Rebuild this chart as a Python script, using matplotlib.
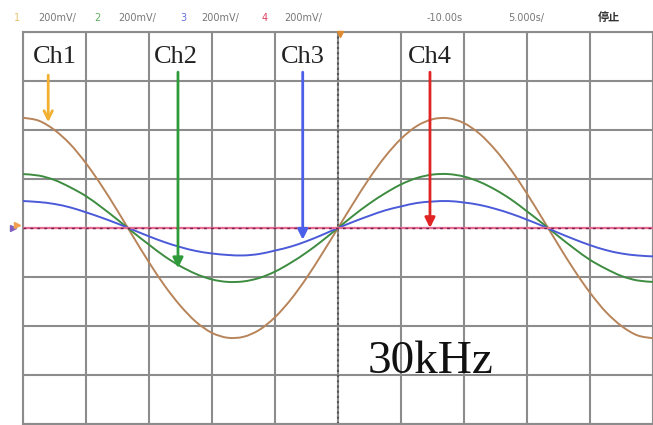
import matplotlib
matplotlib.use("Agg")
import matplotlib.pyplot as plt
from matplotlib.path import Path
from matplotlib.patches import PathPatch
import numpy as np

t_div = [-5.0 + 0.25 * k for k in range(41)]
ch1 = [2.25, 2.19, 2.00, 1.71, 1.32, 0.86, 0.35, -0.18, -0.70, -1.18, -1.59, -1.92, -2.14, -2.24,
       -2.22, -2.08, -1.82, -1.46, -1.02, -0.52, 0.00, 0.52, 1.02, 1.46, 1.82, 2.08, 2.22, 2.24,
       2.14, 1.92, 1.59, 1.18, 0.70, 0.18, -0.35, -0.86, -1.32, -1.71, -2.00, -2.19, -2.25]
ch2 = [1.10, 1.07, 0.98, 0.83, 0.65, 0.42, 0.17, -0.09, -0.34, -0.58, -0.78, -0.94, -1.05, -1.10,
       -1.09, -1.02, -0.89, -0.71, -0.50, -0.26, 0.00, 0.26, 0.50, 0.71, 0.89, 1.02, 1.09, 1.10,
       1.05, 0.94, 0.78, 0.58, 0.34, 0.09, -0.17, -0.42, -0.65, -0.83, -0.98, -1.07, -1.10]
ch3 = [0.55, 0.53, 0.49, 0.42, 0.32, 0.21, 0.09, -0.04, -0.17, -0.29, -0.39, -0.47, -0.52, -0.55,
       -0.56, -0.53, -0.46, -0.38, -0.27, -0.14, 0.00, 0.13, 0.25, 0.36, 0.44, 0.51, 0.54, 0.55,
       0.52, 0.47, 0.39, 0.29, 0.17, 0.04, -0.10, -0.23, -0.35, -0.45, -0.52, -0.56, -0.58]
ch4 = [0.0] * 41

ch_labels = ["Ch1", "Ch2", "Ch3", "Ch4"]
label_x = [-4.49, -2.57, -0.56, 1.46]
arrow_x = [-4.6, -2.54, -0.56, 1.46]
arrow_tip = [2.16, -0.82, -0.24, 0.0]
arrow_top = [3.12, 3.18, 3.18, 3.18]
freq_text = "30kHz"

hdr_nums = ["1", "2", "3", "4"]
hdr_scale = ["200mV/", "200mV/", "200mV/", "200mV/"]
hdr_time = ["-10.00s", "5.000s/"]
hdr_state = "停止"

c1, c2, c3 = "#b8845a", "#3d8c40", "#4a5ad8"
arrow_cols = ["#f2b030", "#2e9a3a", "#4b5fe8", "#e02424"]
hdr_cols = ["#e8c070", "#60b060", "#6070e0", "#e04060"]


def smooth_path(x, y):
    """Catmull-Rom curve through the data points, as cubic Bezier segments."""
    x = np.asarray(x, float)
    y = np.asarray(y, float)
    verts = [(x[0], y[0])]
    codes = [Path.MOVETO]
    n = len(x)
    for i in range(n - 1):
        p0 = np.array([x[max(i - 1, 0)], y[max(i - 1, 0)]])
        p1 = np.array([x[i], y[i]])
        p2 = np.array([x[i + 1], y[i + 1]])
        p3 = np.array([x[min(i + 2, n - 1)], y[min(i + 2, n - 1)]])
        c1_ = p1 + (p2 - p0) / 6.0
        c2_ = p2 - (p3 - p1) / 6.0
        verts += [tuple(c1_), tuple(c2_), tuple(p2)]
        codes += [Path.CURVE4] * 3
    return Path(verts, codes)


W, H = 653, 425
fig = plt.figure(figsize=(W / 100, H / 100), dpi=100)
fig.patch.set_facecolor("white")
ax = fig.add_axes([23 / W, 1 / H, 630 / W, 392 / H])
ax.set_xlim(-5, 5)
ax.set_ylim(-4, 4)
ax.set_xticks(np.arange(-5, 6, 1))
ax.set_yticks(np.arange(-4, 5, 1))
ax.grid(True, color="#8c8c8c", lw=1.5)
ax.tick_params(length=0, labelbottom=False, labelleft=False)
for s in ax.spines.values():
    s.set_color("#8c8c8c")
    s.set_linewidth(1.5)
ax.set_axisbelow(True)

# center dotted vertical line
ax.axvline(0, color="#555555", lw=1.5, ls=(0, (1, 1.5)), zorder=2)

for ys, col in [(ch1, c1), (ch2, c2), (ch3, c3)]:
    ax.add_patch(PathPatch(smooth_path(t_div, ys), facecolor="none", edgecolor=col,
                           lw=1.4, zorder=3))
ax.plot(t_div, ch4, color="#e86a90", lw=1.6, zorder=4)
ax.plot(t_div, ch4, color="#702050", lw=1.0, ls=(0, (2, 3)), zorder=4)

for i, (lab, lx, axx, tip, top, col) in enumerate(zip(ch_labels, label_x, arrow_x, arrow_tip,
                                                       arrow_top, arrow_cols)):
    style = "->,head_length=0.6,head_width=0.3" if i == 0 else "-|>,head_length=0.6,head_width=0.3"
    ax.annotate("", xy=(axx, tip), xytext=(axx, top),
                arrowprops=dict(arrowstyle=style, color=col, lw=2.0, shrinkA=0, shrinkB=0),
                zorder=5)
    ax.text(lx, 3.49, lab, ha="center", va="center", fontsize=19,
            family="Liberation Serif", color="#222222", zorder=6)

ax.text(0.476, -2.96, freq_text, ha="left", va="baseline", fontsize=34,
        family="Liberation Serif", color="#111111", zorder=6)

# header
hy = 1 - 18 / H
num_x = [17, 97, 183, 265]
sc_x = [57, 137, 220, 303]
for n, sc, nx, sx, col in zip(hdr_nums, hdr_scale, num_x, sc_x, hdr_cols):
    fig.text(nx / W, hy, n, color=col, fontsize=7, ha="center", va="center")
    fig.text(sx / W, hy, sc, color="#777777", fontsize=7, ha="center", va="center")
fig.text(445 / W, hy, hdr_time[0], color="#777777", fontsize=7, ha="center", va="center")
fig.text(526 / W, hy, hdr_time[1], color="#777777", fontsize=7, ha="center", va="center")
fig.text(609 / W, hy, hdr_state, color="#333333", fontsize=8, ha="center", va="center",
         family=["Noto Sans CJK SC", "DejaVu Sans"], fontweight="bold")

# markers
fig.lines.append(plt.Line2D([340 / W], [1 - 34 / H], marker="v", color="#e08a30", ms=5,
                            transform=fig.transFigure))
fig.lines.append(plt.Line2D([13 / W], [1 - 228 / H], marker=">", color="#8060c0", ms=5,
                            transform=fig.transFigure))
fig.lines.append(plt.Line2D([17 / W], [1 - 225 / H], marker=">", color="#f0a050", ms=4,
                            transform=fig.transFigure))

fig.savefig("out.png", dpi=100, facecolor="white")
